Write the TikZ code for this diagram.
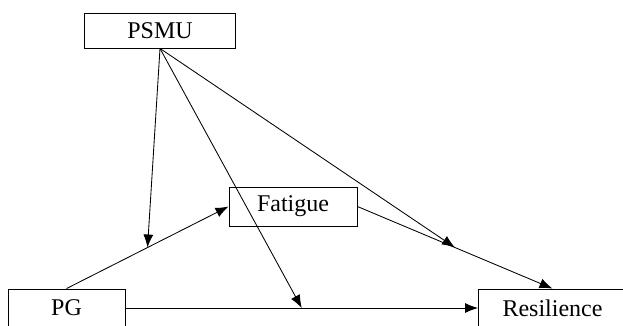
\documentclass[tikz,border=0pt]{standalone}
\usepackage{fontspec}
\setmainfont{Liberation Serif}
\usetikzlibrary{positioning,arrows.meta}
\tikzset{
  varbox/.style={
    draw, rectangle, inner sep=0mm, line width=0.9pt, font=\fontsize{24}{28}\selectfont
  },
  arr/.style={
    -{Latex[length=13pt,width=10pt]}, line width=0.85pt
  }
}

\begin{document}
\begin{tikzpicture}[x=1pt,y=-1pt]
  \useasboundingbox (0,0) rectangle (623,325);
  \clip (0,0) rectangle (623,325);
  \node[varbox, minimum width=151pt, minimum height=35pt] (psmu) at (160,30.5) {PSMU};
  \node[varbox, minimum width=128pt, minimum height=39pt] (fat) at (293,206.5) {Fatigue};
  \node[varbox, minimum width=117pt, minimum height=38pt] (pg) at (66.5,308) {PG};
  \node[varbox, minimum width=148pt, minimum height=38pt] (res) at (552.5,308) {Resilience};

  \draw[arr] (pg.north) -- coordinate[pos=0.5] (m1) (fat.west);
  \draw[arr] (fat.east) -- coordinate[pos=0.5] (m2) (res.north);
  \draw[arr] (pg.east) -- coordinate[pos=0.5] (m3) (res.west);

  \draw[arr] (psmu.south) -- (m1);
  \draw[arr] (psmu.south) -- (m2);
  \draw[arr] (psmu.south) -- (m3);
\end{tikzpicture}
\end{document}
